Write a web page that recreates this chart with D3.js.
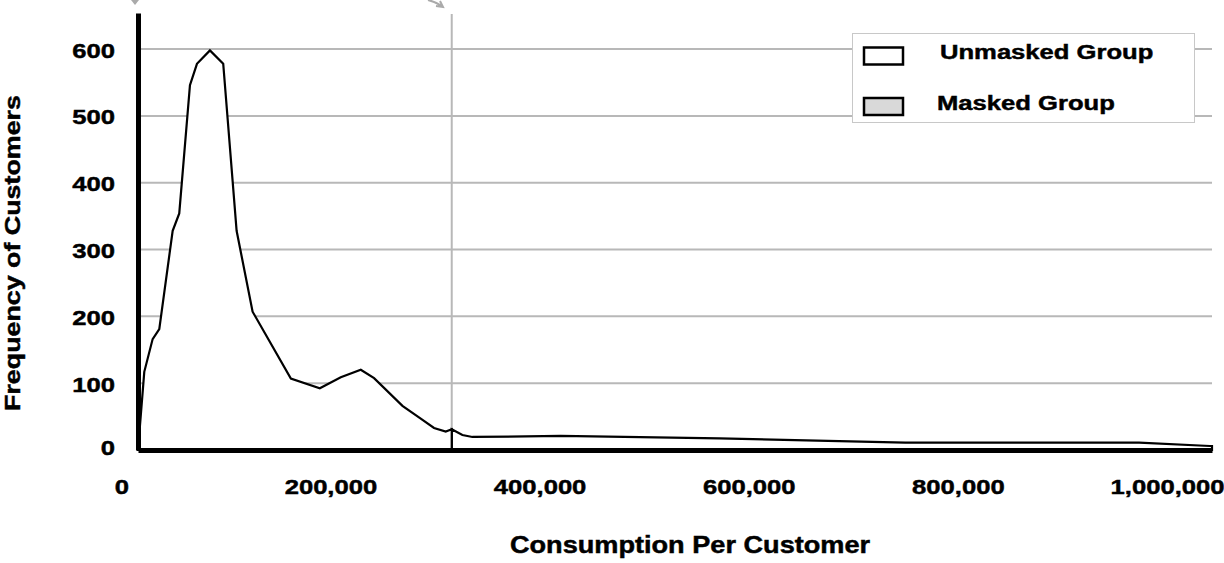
<!DOCTYPE html>
<html>
<head>
<meta charset="utf-8">
<script src="https://cdn.jsdelivr.net/npm/d3@7"></script>
<style>
  html, body { margin: 0; padding: 0; background: #fff; }
  svg { display: block; }
  text { font-family: "Liberation Sans", Arial, Helvetica, sans-serif; font-weight: bold; fill: #000; stroke: #000; stroke-width: 0.45px; }
</style>
</head>
<body>
<svg id="chart" width="1224" height="563"></svg>
<script>
// ---- data ----
const consumption = [16000, 22000, 30000, 36350, 49150, 55450, 65680, 72370, 84790, 97490,
  110300, 125580, 162170, 189870, 209930, 229040, 241750, 268880, 286360, 299070,
  310250, 316000, 326200, 335750, 420110, 572000, 749700, 973250, 1041000, 1043000];
const frequency = [0, 117, 166, 181, 328, 354, 546, 578, 598, 578,
  328, 207, 107, 92.5, 109, 120, 107.5, 66, 47, 33,
  27.5, 31, 22.5, 19.5, 21, 17.5, 11, 11, 6, 6];
const maskThreshold = 316000;
const yTicks = [0, 100, 200, 300, 400, 500, 600];
const xTicks = [0, 200000, 400000, 600000, 800000, 1000000];
const legendLabels = ["Unmasked Group", "Masked Group"];
const legendFills = ["#ffffff", "#d9d9d9"];
const xTitle = "Consumption Per Customer";
const yTitle = "Frequency of Customers";

// ---- layout ----
const svg = d3.select("#chart");
const x = d3.scaleLinear().domain([16000, 1043000]).range([138, 1212]);
const y = d3.scaleLinear().domain([0, 654]).range([450, 13]);
const SX = 1.22;

const points = consumption.map((c, i) => ({ c, f: frequency[i] }));
const unmasked = points.filter(p => p.c <= maskThreshold);
const masked = points.filter(p => p.c >= maskThreshold);

// gridlines
svg.append("g").selectAll("line").data(yTicks.filter(d => d > 0)).join("line")
  .attr("x1", x.range()[0]).attr("x2", x.range()[1])
  .attr("y1", d => y(d)).attr("y2", d => y(d))
  .attr("stroke", "#b8b8b8").attr("stroke-width", 2);

// threshold line
svg.append("line")
  .attr("x1", x(maskThreshold)).attr("x2", x(maskThreshold))
  .attr("y1", 14).attr("y2", y(0))
  .attr("stroke", "#b8b8b8").attr("stroke-width", 2);

// areas
const area = d3.area().x(d => x(d.c)).y0(y(0)).y1(d => y(d.f));
svg.append("path").datum(masked).attr("d", area)
  .attr("fill", "#ffffff").attr("stroke", "#000").attr("stroke-width", 2.2).attr("stroke-linejoin", "miter");
svg.append("path").datum(unmasked).attr("d", area)
  .attr("fill", "#ffffff").attr("stroke", "#000").attr("stroke-width", 2.2).attr("stroke-linejoin", "miter");

// top arrows (cut-off annotation remnants)
svg.append("path").attr("d", "M131,0 L139,0 L135,5 Z").attr("fill", "#aaa");
svg.append("path").attr("d", "M428,0 Q436,2 442,6 M436,6 L443,7 L440,1")
  .attr("fill", "none").attr("stroke", "#aaa").attr("stroke-width", 2);

// legend
const lg = svg.append("g");
lg.append("rect").attr("x", 852.5).attr("y", 33.5).attr("width", 342).attr("height", 89)
  .attr("fill", "#fff").attr("stroke", "#c8c8c8").attr("stroke-width", 1);
legendLabels.forEach((lab, i) => {
  const yy = i === 0 ? 47.5 : 98;
  lg.append("rect").attr("x", 864).attr("y", yy).attr("width", 39).attr("height", 17)
    .attr("fill", legendFills[i]).attr("stroke", "#000").attr("stroke-width", 2.5);
  lg.append("text")
    .attr("transform", `translate(${i === 0 ? 940 : 937},${i === 0 ? 59 : 110}) scale(1.28,1)`)
    .attr("font-size", 20).text(lab);
});

// axes
const yAxis = d3.axisLeft(y).tickValues(yTicks).tickSize(0).tickSizeOuter(0);
const gy = svg.append("g").attr("transform", `translate(${x.range()[0]},0)`).call(yAxis);
gy.select(".domain").attr("stroke", "#000").attr("stroke-width", 5);
gy.selectAll(".tick text")
  .attr("font-size", 21).attr("font-family", null).attr("fill", "#000")
  .attr("x", -23 / SX).attr("dy", "0.38em")
  .attr("transform", `scale(${SX},1)`);
gy.selectAll(".tick").filter(d => d === 0).select("text").attr("dy", "0.22em");

const xAxis = d3.axisBottom(x).tickValues(xTicks).tickSize(0).tickSizeOuter(0).tickFormat(d3.format(","));
const gx = svg.append("g").attr("transform", `translate(0,${y(0)})`).call(xAxis);
gx.select(".domain").attr("stroke", "#000").attr("stroke-width", 5);
gx.selectAll(".tick text")
  .attr("font-size", 21).attr("font-family", null).attr("fill", "#000")
  .attr("y", 44).attr("dy", 0)
  .attr("transform", `scale(${SX},1)`);

// titles
svg.append("text").attr("text-anchor", "middle")
  .attr("transform", `translate(690,553) scale(1.18,1)`)
  .attr("font-size", 23).text(xTitle);
svg.append("text").attr("text-anchor", "middle")
  .attr("transform", `translate(20,253) rotate(-90) scale(1.22,1)`)
  .attr("font-size", 22).text(yTitle);
</script>
</body>
</html>
